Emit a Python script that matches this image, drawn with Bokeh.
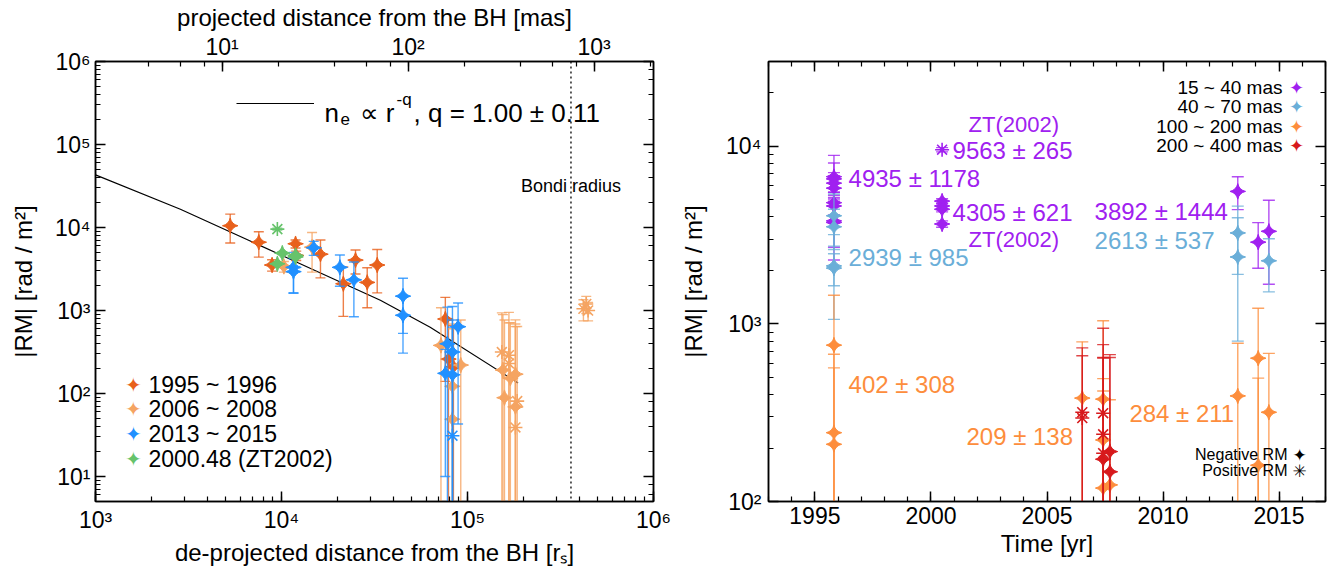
import numpy as np
from bokeh.plotting import figure
from bokeh.layouts import row
from bokeh.models import (LogAxis, LinearAxis, Range1d, LogScale, Span, Label,
                          Legend, LegendItem, CustomJSTickFormatter, LogTicker,
                          SingleIntervalTicker)
from bokeh.embed import file_html
from bokeh.resources import INLINE

# ======================= DATA : left panel (|RM| vs distance) =======================
mas_to_rs = 479.0          # r_S per mas (de-projected)
bondi_rs = 3.6e5           # Bondi radius [r_S]

# 1995 ~ 1996
r_95  = [5300, 7550, 8900, 11900, 12000, 16200, 21500, 25000, 28900, 32700, 76000, 79000, 84000]
rm_95 = [10500, 6650, 3530, 6370, 4600, 4770, 2100, 4050, 2180, 3530, 790, 260, 210]
e_95  = [4000, 2250, 550, 700, 600, 2300, 1250, 1300, 1100, 1900, 650, 500, 450]
s_95  = ["neg"] * 13

# 2006 ~ 2008
r_06  = [10300, 14600, 72000, 92000, 83000, 83000, 155000, 170000, 181000, 158000, 181000,
         153000, 167000, 167000, 185000, 181000, 420000, 435000, 445000]
rm_06 = [3400, 5800, 380, 220, 122, 49, 192, 153, 171, 89, 69,
         316, 289, 230, 81, 39, 1050, 1200, 1000]
e_06  = [500, 2900, 700, 550, 480, 640, 700, 560, 600, 680, 620,
         620, 660, 480, 560, 600, 300, 280, 250]
s_06  = ["neg"] * 11 + ["pos"] * 8

# 2013 ~ 2015
r_13  = [11600, 11600, 14900, 20600, 24500, 45000, 45000, 78000, 83000, 76000, 83000, 89000, 83000]
rm_13 = [3310, 2940, 5710, 3310, 2340, 1490, 877, 397, 316, 175, 168, 638, 31]
e_13  = [1700, 1300, 1100, 1350, 1500, 960, 570, 700, 800, 165, 600, 595, 600]
s_13  = ["neg"] * 12 + ["pos"]

# 2000.48 (ZT2002)
r_zt  = [9500, 10100, 11900, 11900, 9500]
rm_zt = [3650, 4910, 4610, 4420, 9563]
e_zt  = [150, 200, 200, 200, 265]
s_zt  = ["neg"] * 4 + ["pos"]

# best-fit model curve
fit_rs = [1000, 2860, 10000, 34000, 63000, 187000]
fit_rm = [43000, 16600, 4630, 1330, 630, 134]
fit_text = ", q =  1.00 \u00b1 0.11"

legend_left = ["1995 ~ 1996", "2006 ~ 2008", "2013 ~ 2015", "2000.48 (ZT2002)"]

# ======================= DATA : right panel (|RM| vs time) =======================
# 15 ~ 40 mas
yr_p = [1995.82] * 8 + [2000.48] * 5 + [2013.22, 2014.10, 2014.56]
rm_p = [6740, 6550, 6200, 5810, 4810, 4610, 3800, 3720, 9563, 4910, 4610, 4420, 3650, 5570, 2885, 3320]
er_p = [2150, 1500, 900, 1000, 700, 900, 1100, 1430, 265, 150, 150, 150, 150, 1170, 830, 1650]
sg_p = ["neg"] * 8 + ["pos"] + ["neg"] * 7

# 40 ~ 70 mas
yr_b = [1995.82] * 4 + [2013.22] * 2 + [2014.56]
rm_b = [4060, 3520, 2120, 2060, 3250, 2380, 2265]
er_b = [1320, 900, 1060, 420, 1350, 1580, 750]
sg_b = ["neg"] * 7

# 100 ~ 200 mas
yr_o = [1995.82] * 3 + [2006.52] + [2007.42] * 3 + [2007.71] + [2013.22] + [2014.10] * 2 + [2014.56]
rm_o = [759, 244, 210, 382, 377, 222, 119, 124, 393, 641, 160, 318]
er_o = [690, 430, 355, 410, 665, 270, 300, 250, 385, 584, 335, 364]
sg_o = ["neg"] * 12

# 200 ~ 400 mas
yr_r = [2006.52] * 2 + [2007.42] * 4 + [2007.71] * 2
rm_r = [318, 295, 314, 239, 187, 173, 191, 147]
er_r = [415, 367, 630, 525, 460, 470, 480, 500]
sg_r = ["pos"] * 5 + ["neg"] * 3

legend_right = ["15 ~ 40 mas", "40 ~ 70 mas", "100 ~ 200 mas", "200 ~ 400 mas"]
legend_sign = ["Negative RM", "Positive RM"]

# annotation texts (anchor year, anchor |RM|, text, group)
ann_year = [2001.62, 2000.93, 1996.45, 2000.93, 2001.62, 1996.45, 2007.05, 2007.05, 1996.45, 2001.53, 2008.55]
ann_rm   = [13230, 9500, 6580, 4210, 2985, 2375, 4315, 2950, 454, 232, 314]
ann_text = ["ZT(2002)", "9563 \u00b1 265", "4935 \u00b1 1178", "4305 \u00b1 621", "ZT(2002)",
            "2939 \u00b1 985", "3892 \u00b1 1444", "2613 \u00b1 537", "402 \u00b1 308",
            "209 \u00b1 138", "284 \u00b1 211"]
ann_grp  = ["p", "p", "p", "p", "p", "b", "p", "b", "o", "o", "o"]

# ======================= STYLE =======================
FONT = "Liberation Sans"
SYMFONT = "DejaVu Sans"
STAR4, STAR8 = "\u2726", "\u2733"
C95, C06, C13, CZT = "#e8601c", "#f5a462", "#2090ff", "#66c36b"
CP, CB, CO, CR = "#a020f0", "#6aaed8", "#fd8d3c", "#d7191c"
grp_color = {"p": CP, "b": CB, "o": CO, "r": CR}

sup_fmt = CustomJSTickFormatter(code="""
const s = {'0':'\u2070','1':'\u00b9','2':'\u00b2','3':'\u00b3','4':'\u2074','5':'\u2075',
           '6':'\u2076','7':'\u2077','8':'\u2078','9':'\u2079','-':'\u207b'};
const e = Math.round(Math.log10(tick));
return '10' + String(e).split('').map(c => s[c]).join('');
""")
blank_fmt = CustomJSTickFormatter(code="return '';")


def style_axis(ax, label_size="23px", standoff=6, title_standoff=4):
    ax.major_tick_in = 10
    ax.major_tick_out = 0
    ax.minor_tick_in = 5
    ax.minor_tick_out = 0
    ax.axis_line_width = 1.5
    ax.axis_line_color = "black"
    ax.major_tick_line_width = 1.5
    ax.major_tick_line_color = "black"
    ax.minor_tick_line_width = 1.2
    ax.minor_tick_line_color = "black"
    ax.major_label_text_font = FONT
    ax.major_label_text_font_size = label_size
    ax.major_label_text_color = "black"
    ax.major_label_standoff = standoff
    ax.axis_label_text_font = FONT
    ax.axis_label_text_font_size = "24px"
    ax.axis_label_text_font_style = "normal"
    ax.axis_label_text_color = "black"
    ax.axis_label_standoff = title_standoff


def draw_group(p, x, y, err, sign, color, size=11, cap=10, ealpha=0.8):
    x = np.asarray(x, float)
    y = np.asarray(y, float)
    e = np.asarray(err, float)
    hi = y + e
    ok = (y - e) > 0
    lo = np.where(ok, y - e, 1e-3)
    p.segment(x, lo, x, hi, line_color=color, line_width=1.4, line_alpha=ealpha)
    p.scatter(x, hi, marker="dash", size=cap, line_color=color, line_width=1.4, line_alpha=ealpha)
    p.scatter(x[ok], lo[ok], marker="dash", size=cap, line_color=color, line_width=1.4, line_alpha=ealpha)
    neg = np.asarray(sign) == "neg"
    p.scatter(x[neg], y[neg], marker="square_pin", angle=np.pi / 4, size=size,
              fill_color=color, line_color=color, line_width=1)
    p.scatter(x[~neg], y[~neg], marker="asterisk", size=size + 3, line_color=color, line_width=1.6)


def frame_style(p):
    p.grid.visible = False
    p.outline_line_color = "black"
    p.outline_line_width = 1.5
    p.background_fill_color = "white"
    p.border_fill_color = "white"


def slabel(x, y, text, size, color="black", align="left", font=FONT, baseline="middle", style="normal"):
    return Label(x=x, y=y, x_units="screen", y_units="screen", text=text, text_font=font,
                 text_font_size=size, text_color=color, text_align=align,
                 text_baseline=baseline, text_font_style=style)


# ======================= LEFT PANEL =======================
p1 = figure(width=675, height=568, x_axis_type="log", y_axis_type="log",
            x_range=Range1d(1e3, 1e6), y_range=Range1d(5, 1e6),
            output_backend="svg", toolbar_location=None,
            min_border_left=95, min_border_right=22, min_border_top=58, min_border_bottom=63)
frame_style(p1)
p1.xaxis.axis_label = "de-projected distance from the BH [r\u209b]"
p1.yaxis.axis_label = "|RM| [rad / m\u00b2]"
p1.xaxis.formatter = sup_fmt
p1.yaxis.formatter = sup_fmt
style_axis(p1.xaxis[0], standoff=5, title_standoff=3)
style_axis(p1.yaxis[0], standoff=5, title_standoff=15)

ax_r1 = LogAxis(ticker=LogTicker(), formatter=blank_fmt)
style_axis(ax_r1, standoff=0)
p1.add_layout(ax_r1, "right")

p1.extra_x_ranges = {"mas": Range1d(1e3 / mas_to_rs, 1e6 / mas_to_rs)}
p1.extra_x_scales = {"mas": LogScale()}
ax_top = LogAxis(x_range_name="mas", ticker=LogTicker(), formatter=sup_fmt,
                 axis_label="projected distance from the BH [mas]")
style_axis(ax_top, standoff=2, title_standoff=0)
p1.add_layout(ax_top, "above")

p1.add_layout(Span(location=bondi_rs, dimension="height", line_color="black",
                   line_width=1.3, line_dash="2 3"))
p1.add_layout(Label(x=bondi_rs, y=316, x_units="data", y_units="screen", text="Bondi radius",
                    text_align="center", text_baseline="middle", text_font=FONT,
                    text_font_size="18px", text_color="black"))

fit_r = p1.line(fit_rs, fit_rm, line_color="black", line_width=1.2)

draw_group(p1, r_95, rm_95, e_95, s_95, C95)
draw_group(p1, r_06, rm_06, e_06, s_06, C06)
draw_group(p1, r_13, rm_13, e_13, s_13, C13)
draw_group(p1, r_zt, rm_zt, e_zt, s_zt, CZT)

# legend (bottom left)
for i, (t, c) in enumerate(zip(legend_left, [C95, C06, C13, CZT])):
    yy = 117 - 24.7 * i
    p1.add_layout(slabel(38, yy, STAR4, "20px", color=c, align="center", font=SYMFONT))
    p1.add_layout(slabel(53, yy, t, "23px"))

# fit legend (top)
leg_fit = Legend(items=[LegendItem(label="", renderers=[fit_r])], location=(141, 388),
                 padding=0, margin=0, glyph_width=78, glyph_height=20, label_height=20,
                 label_standoff=0, label_width=0, label_text_font_size="10px",
                 background_fill_alpha=0, border_line_alpha=0)
p1.add_layout(leg_fit)
p1.add_layout(slabel(229, 389, "n", "26px", baseline="alphabetic"))
p1.add_layout(slabel(245, 383, "e", "17px", baseline="alphabetic"))
p1.add_layout(slabel(264, 389, "\u221d r", "26px", baseline="alphabetic"))
p1.add_layout(slabel(301, 402, "-q", "17px", baseline="alphabetic"))
p1.add_layout(slabel(318, 389, fit_text, "26px", baseline="alphabetic"))

# ======================= RIGHT PANEL =======================
p2 = figure(width=655, height=568, y_axis_type="log",
            x_range=Range1d(1993, 2017), y_range=Range1d(100, 3e4),
            output_backend="svg", toolbar_location=None,
            min_border_left=93, min_border_right=5, min_border_top=58, min_border_bottom=63)
frame_style(p2)
p2.xaxis.ticker = SingleIntervalTicker(interval=5, num_minor_ticks=5)
p2.xaxis.axis_label = "Time [yr]"
p2.yaxis.axis_label = "|RM| [rad / m\u00b2]"
p2.yaxis.formatter = sup_fmt
style_axis(p2.xaxis[0], standoff=5, title_standoff=3)
style_axis(p2.yaxis[0], standoff=7, title_standoff=16)

ax_r2 = LogAxis(ticker=LogTicker(), formatter=blank_fmt)
style_axis(ax_r2, standoff=0)
p2.add_layout(ax_r2, "right")
ax_t2 = LinearAxis(ticker=SingleIntervalTicker(interval=5, num_minor_ticks=5), formatter=blank_fmt)
style_axis(ax_t2, standoff=0)
p2.add_layout(ax_t2, "above")

draw_group(p2, yr_p, rm_p, er_p, sg_p, CP, size=11, cap=12)
draw_group(p2, yr_b, rm_b, er_b, sg_b, CB, size=11, cap=12)
draw_group(p2, yr_o, rm_o, er_o, sg_o, CO, size=11, cap=12)
draw_group(p2, yr_r, rm_r, er_r, sg_r, CR, size=11, cap=12)

for xx, yy, tt, gg in zip(ann_year, ann_rm, ann_text, ann_grp):
    p2.add_layout(Label(x=xx, y=yy, text=tt, text_color=grp_color[gg], text_font=FONT,
                        text_font_size="22px" if tt.startswith("ZT") else "24px",
                        text_align="left", text_baseline="middle"))

# legend (top right): text then symbol
for i, (t, c) in enumerate(zip(legend_right, [CP, CB, CO, CR])):
    yy = 414 - 19.3 * i
    p2.add_layout(slabel(514, yy, t, "19px", align="right"))
    p2.add_layout(slabel(528, yy, STAR4, "18px", color=c, align="center", font=SYMFONT))

# sign legend (bottom right)
for i, (t, s) in enumerate(zip(legend_sign, [STAR4, STAR8])):
    yy = 47 - 16 * i
    p2.add_layout(slabel(519, yy, t, "16px", align="right"))
    p2.add_layout(slabel(531, yy, s, "17px", align="center", font=SYMFONT, style="bold"))

layout = row(p1, p2, spacing=0)
open("out.html", "w").write(file_html(layout, INLINE))
